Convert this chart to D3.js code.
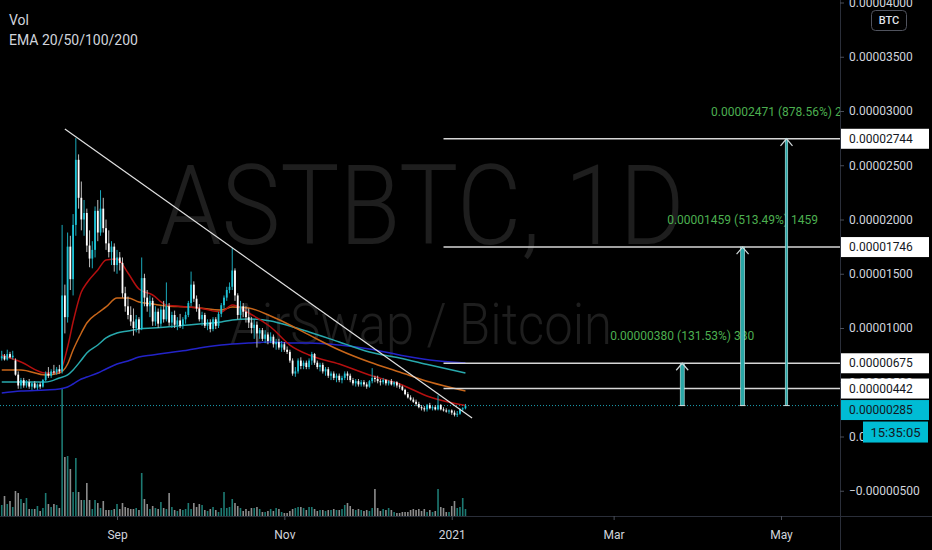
<!DOCTYPE html>
<html><head><meta charset="utf-8">
<script src="https://cdn.jsdelivr.net/npm/d3@7"></script>
<style>html,body{margin:0;padding:0;background:#000;overflow:hidden}svg{display:block}</style>
</head><body><svg id="c" width="932" height="550"></svg>
<script>
// ---- data (prices in satoshi = 1e-8 BTC) ----
const startDate = "2020-07-21";
const open  = [720,740,710,760,730,700,570,470,520,470,500,460,490,450,480,460,520,580,560,600,590,620,600,1300,1100,1750,1450,1950,2550,2200,2000,2060,1760,1640,1720,2080,1880,2100,1920,1780,1700,1750,1580,1650,1600,1320,1200,1120,1060,1000,1080,990,1460,1280,1200,1250,1060,1150,1040,1170,1080,1200,1050,1120,1030,1070,1020,1080,1120,1230,1400,1270,1180,1080,1120,1020,1050,990,1080,1020,1130,1210,1280,1350,1380,1530,1300,1120,1200,1150,1100,1050,1000,1030,950,980,900,940,880,920,850,870,820,850,800,780,700,580,600,700,650,680,640,700,760,680,640,660,600,620,560,580,540,560,520,540,580,560,520,490,510,480,500,480,460,510,540,530,510,500,520,490,510,480,500,470,460,430,390,360,340,320,300,270,260,250,290,260,270,250,290,250,240,230,240,220,200,210,250,260];
const high  = [790,760,800,780,790,720,600,540,540,520,530,500,510,490,500,530,600,640,620,660,640,660,1950,1400,1880,1850,2050,2750,2600,2350,2180,2100,1900,1800,2120,2180,2270,2200,2000,1900,1800,1780,1720,1700,1650,1380,1290,1200,1180,1120,1100,1650,1500,1350,1300,1280,1200,1180,1200,1250,1420,1230,1150,1160,1100,1130,1100,1150,1250,1520,1430,1300,1220,1150,1140,1080,1080,1100,1100,1150,1230,1300,1380,1420,1740,1550,1320,1250,1230,1200,1180,1100,1080,1060,1000,1000,980,960,960,940,900,900,880,870,830,800,720,640,720,730,700,700,720,780,770,700,680,680,640,640,600,600,580,580,560,600,600,580,540,530,530,520,520,500,520,630,560,560,530,540,530,520,530,510,510,490,470,440,410,380,360,340,320,290,280,300,310,290,290,380,300,270,260,250,250,240,235,260,270,300];
const low   = [700,700,700,720,710,560,440,440,450,450,440,430,440,430,440,450,510,540,540,570,570,580,580,950,1050,1350,1300,1850,2100,1900,1850,1700,1560,1550,1650,1800,1850,1880,1720,1650,1580,1520,1500,1530,1280,1150,1080,1020,930,960,950,980,1200,1150,1100,1020,1020,1000,1010,1050,1060,1020,1000,1000,980,1000,990,1040,1100,1200,1240,1150,1060,1020,1000,980,960,970,990,1000,1100,1180,1250,1320,1350,1250,1080,1080,1100,1050,1000,950,900,820,900,880,860,850,860,820,800,800,780,780,760,680,560,550,580,620,620,620,620,660,660,620,600,580,560,540,520,520,500,500,490,520,520,500,470,460,460,460,460,440,450,490,500,490,470,480,470,470,470,460,450,440,420,380,350,330,310,280,260,240,230,230,250,240,240,240,240,230,220,210,200,185,180,200,230,250];
const close = [740,710,760,730,745,570,470,520,470,500,460,490,450,480,460,520,580,560,600,590,620,600,1300,1100,1750,1450,1950,2550,2200,2000,2060,1760,1640,1720,2080,1880,2100,1920,1780,1700,1750,1580,1650,1600,1320,1200,1120,1060,1000,1080,990,1460,1280,1200,1250,1060,1150,1040,1170,1080,1200,1050,1120,1030,1070,1020,1080,1120,1230,1400,1270,1180,1080,1120,1020,1050,990,1080,1020,1130,1210,1280,1350,1380,1530,1300,1120,1200,1150,1100,1050,1000,1030,950,980,900,940,880,920,850,870,820,850,800,780,700,580,600,700,650,680,640,700,760,680,640,660,600,620,560,580,540,560,520,540,580,560,520,490,510,480,500,480,460,510,540,530,510,500,520,490,510,480,500,470,460,430,390,360,340,320,300,270,260,250,290,260,270,250,290,250,240,230,240,220,200,210,250,260,285];
const volume = [11,20,12,15,9,25,23,17,13,18,7,7,7,10,5,8,23,12,9,12,11,8,128,59,60,47,24,58,24,16,16,33,16,7,16,13,8,15,6,6,6,7,12,7,13,9,8,7,7,8,6,43,17,12,7,10,8,7,14,8,7,23,9,6,5,7,6,7,13,7,13,9,12,11,6,5,7,9,6,4,8,24,8,9,17,13,10,8,5,7,5,8,8,9,7,4,4,5,7,5,8,7,4,3,3,5,7,8,9,9,8,6,9,9,7,5,6,6,5,6,6,7,6,6,7,11,13,10,7,6,7,6,5,6,5,8,27,8,5,7,6,8,6,4,3,3,4,4,4,6,7,6,7,5,7,4,6,4,5,27,9,8,4,4,10,15,8,9,18,7];
// EMA values, by day index
const emaDays = [0,7,16,21,24,26,29,31,35,38,42,46,50,55,60,68,72,80,84,90,98,105,112,123,134,145,156,169];
const ema20  = [751,687,585,594,825,1055,1332,1415,1535,1627,1636,1507,1359,1304,1212,1194,1184,1148,1212,1138,1009,843,751,668,567,484,364,285];
const ema50  = [613,613,567,585,668,797,954,1046,1138,1194,1277,1277,1240,1221,1203,1194,1184,1166,1194,1184,1110,1028,936,797,686,594,502,419];
const ema100 = [502,502,502,539,567,613,705,770,843,908,954,972,991,1000,1009,1028,1037,1055,1074,1083,1065,1018,963,871,779,724,659,585];
const ema200 = [401,419,429,438,456,484,530,548,585,622,668,696,733,751,770,797,816,843,853,862,871,862,862,843,806,751,705,677];
const priceTicks = [4000,3500,3000,2500,2000,1500,1000,500,0,-500];
const monthTicks = ["2020-09-01","2020-11-01","2021-01-01","2021-03-01","2021-05-01"];
const monthLabels = ["Sep","Nov","2021","Mar","May"];
const levels = [2744,1746,675,442];
const levelStart = "2020-12-29";
const lastPrice = 285;
const timeLabel = "15:35:05";
const measureDates = ["2021-03-26","2021-04-17","2021-05-03"];
const measureTops = [675,1746,2744];
const measureLabels = ["0.00000380 (131.53%) 380","0.00001459 (513.49%) 1459","0.00002471 (878.56%) 2471"];
const trendDates = ["2020-08-13","2021-01-08T10:00"];
const trendValues = [2835,170];

// ---- setup ----
const W=932,H=550,PR=840,PB=516;
const svg=d3.select("#c");
svg.append("rect").attr("width",W).attr("height",H).attr("fill","#000");
const P=d3.utcParse("%Y-%m-%d"), PT=d3.utcParse("%Y-%m-%dT%H:%M");
const pd=s=>P(s)||PT(s);
const t0=pd(startDate);
const dates=close.map((_,i)=>d3.utcDay.offset(t0,i));
const x=d3.scaleUtc().domain([pd("2020-09-01"),pd("2021-05-01")]).range([117,781]);
const y=d3.scaleLinear().domain([0,4000]).range([436.5,2.5]);
const vy=d3.scaleLinear().domain([0,d3.max(volume)]).range([PB,388]);
const fmt=v=>(v<0?"\u2212":"")+(Math.abs(v)/1e8).toFixed(8);

svg.append("clipPath").attr("id","pc").append("rect").attr("width",PR).attr("height",PB);
const g=svg.append("g").attr("clip-path","url(#pc)");

// watermark
g.append("text").attr("x",422).attr("y",244).attr("text-anchor","middle")
 .attr("font-family","Roboto, 'Open Sans', sans-serif").attr("font-weight",300)
 .attr("font-size",112).attr("textLength",525).attr("lengthAdjust","spacingAndGlyphs")
 .attr("fill","#1e1e1e").text("ASTBTC, 1D");
g.append("text").attr("x",421).attr("y",344).attr("text-anchor","middle")
 .attr("font-family","Roboto, 'Open Sans', sans-serif").attr("font-weight",300)
 .attr("font-size",58).attr("textLength",382).attr("lengthAdjust","spacingAndGlyphs")
 .attr("fill","#1e1e1e").text("AirSwap / Bitcoin");

const up=i=>close[i]>=open[i];
// volume
g.append("g").selectAll("rect").data(volume).join("rect")
 .attr("x",(d,i)=>x(dates[i])-0.8).attr("width",1.6)
 .attr("y",d=>vy(d)).attr("height",d=>PB-vy(d))
 .attr("fill",(d,i)=>up(i)?"#1d7a73":"#8c8c8c");

// EMAs
const emaLine=d3.line().x(d=>x(d3.utcDay.offset(t0,d[0]))).y(d=>y(d[1])).curve(d3.curveMonotoneX);
[[ema200,"#2323c8"],[ema100,"#28a9ad"],[ema50,"#c8661a"],[ema20,"#b40f0f"]].forEach(([arr,c])=>{
  g.append("path").attr("d",emaLine(emaDays.map((d,i)=>[d,arr[i]])))
   .attr("fill","none").attr("stroke",c).attr("stroke-width",1.5);
});

// current price dotted line
g.append("line").attr("x1",0).attr("x2",PR).attr("y1",y(lastPrice)).attr("y2",y(lastPrice))
 .attr("stroke","#1b9fb0").attr("stroke-width",1).attr("stroke-dasharray","1 2");

// candles
const cg=g.append("g");
close.forEach((c,i)=>{
  const cx=x(dates[i]);
  const col=up(i)?"#1ec3d6":"#ffffff";
  cg.append("line").attr("x1",cx).attr("x2",cx).attr("y1",y(high[i])).attr("y2",y(low[i]))
    .attr("stroke",up(i)?"#1aa9bb":"#bdbdbd").attr("stroke-width",1);
  const yt=y(Math.max(open[i],c)), yb=y(Math.min(open[i],c));
  cg.append("rect").attr("x",cx-0.9).attr("width",1.8).attr("y",yt).attr("height",Math.max(1,yb-yt)).attr("fill",col);
});

// trend line
g.append("line").attr("x1",x(pd(trendDates[0]))).attr("y1",y(trendValues[0]))
 .attr("x2",x(pd(trendDates[1]))).attr("y2",y(trendValues[1]))
 .attr("stroke","#e0e0e0").attr("stroke-width",1.2);

// level lines
levels.forEach(v=>{
  g.append("line").attr("x1",x(pd(levelStart))).attr("x2",PR).attr("y1",y(v)).attr("y2",y(v))
   .attr("stroke","#d6d6d6").attr("stroke-width",1.5);
});

// measure arrows
const mw=[4,4,2.5];
measureDates.forEach((d,i)=>{
  const mx=x(pd(d)), yt=y(measureTops[i]), yb=y(lastPrice);
  g.append("rect").attr("x",mx-mw[i]/2).attr("width",mw[i]).attr("y",yt).attr("height",yb-yt)
   .attr("fill","#2aa7a7").attr("stroke","#c4ecec").attr("stroke-width",0.6);
  g.append("polyline").attr("points",`${mx-6},${yt+7} ${mx},${yt} ${mx+6},${yt+7}`)
   .attr("fill","none").attr("stroke","#d0d8da").attr("stroke-width",1.2);
  g.append("line").attr("x1",mx-3).attr("x2",mx+3).attr("y1",yb).attr("y2",yb).attr("stroke","#d0d8da");
  g.append("text").attr("x",mx).attr("y",yt-27).attr("dy","0.35em").attr("text-anchor","middle")
   .attr("font-family","Roboto, sans-serif").attr("font-size",12).attr("fill","#4caf50").text(measureLabels[i]);
});

// legend
const lg=svg.append("g").attr("font-family","Roboto, 'Open Sans', sans-serif").attr("font-size",14).attr("fill","#d1d4dc");
lg.append("text").attr("x",9).attr("y",25).text("Vol");
lg.append("text").attr("x",9).attr("y",45).text("EMA 20/50/100/200");

// axes
svg.append("line").attr("x1",0).attr("x2",W).attr("y1",PB+0.5).attr("y2",PB+0.5).attr("stroke","#2a2e39");
svg.append("line").attr("x1",PR+0.5).attr("x2",PR+0.5).attr("y1",0).attr("y2",H).attr("stroke","#2a2e39");

const ya=svg.append("g").attr("transform",`translate(${PR},0)`)
 .call(d3.axisRight(y).tickValues(priceTicks).tickSize(4).tickPadding(5).tickFormat(fmt));
ya.select(".domain").remove();
ya.selectAll("line").attr("stroke","#4a4e59");
ya.selectAll("text").attr("fill","#d1d4dc").attr("font-family","Roboto, sans-serif").attr("font-size",12);

const xa=svg.append("g").attr("transform",`translate(0,${PB})`)
 .call(d3.axisBottom(x).tickValues(monthTicks.map(pd)).tickSize(4).tickFormat((d,i)=>monthLabels[i]));
xa.select(".domain").remove();
xa.selectAll("line").attr("stroke","#4a4e59");
xa.selectAll("text").attr("fill","#d1d4dc").attr("font-family","Roboto, sans-serif").attr("font-size",12)
 .attr("y",19).attr("dy","0.35em");

// price labels on axis
const lb=svg.append("g").attr("font-family","Roboto, sans-serif").attr("font-size",12);
let lastBottom=0;
levels.forEach(v=>{
  const yc=y(v);
  lb.append("rect").attr("x",PR+1).attr("y",yc-10).attr("width",88).attr("height",20).attr("fill","#ffffff");
  lb.append("text").attr("x",PR+9).attr("y",yc).attr("dy","0.35em").attr("fill","#131722").text(fmt(v));
  lastBottom=Math.max(lastBottom,yc+10);
});
const ly=Math.max(y(lastPrice)-10,lastBottom+1.5);
lb.append("rect").attr("x",PR+1).attr("y",ly).attr("width",88).attr("height",20).attr("fill","#00bcd4");
lb.append("text").attr("x",PR+9).attr("y",ly+10).attr("dy","0.35em").attr("fill","#131722").text(fmt(lastPrice));
lb.append("rect").attr("x",863).attr("y",ly+21.5).attr("width",65).attr("height",21).attr("fill","#00bcd4");
lb.append("text").attr("x",895.5).attr("y",ly+32).attr("dy","0.35em").attr("text-anchor","middle").attr("fill","#131722").attr("font-size",13).text(timeLabel);

// BTC badge
svg.append("rect").attr("x",871.5).attr("y",10.5).attr("width",35).attr("height",20).attr("rx",4)
 .attr("fill","#000").attr("stroke","#50535e");
svg.append("text").attr("x",889).attr("y",20.5).attr("dy","0.35em").attr("text-anchor","middle")
 .attr("font-family","Roboto, sans-serif").attr("font-size",11).attr("font-weight",500).attr("fill","#e0e3eb").text("BTC");
</script></body></html>
